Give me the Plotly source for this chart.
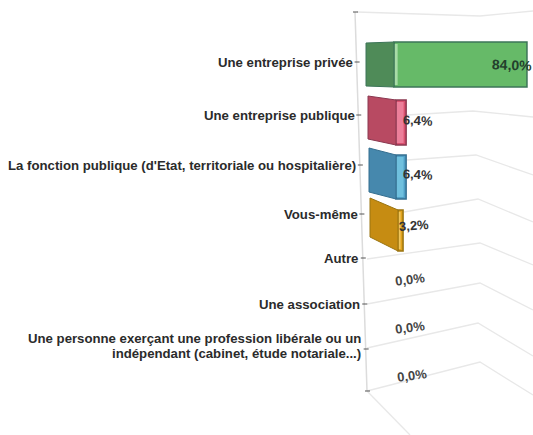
import plotly.graph_objects as go

W, H = 533, 435

# data
categories = [
    'Une entreprise privée',
    'Une entreprise publique',
    "La fonction publique (d'Etat, territoriale ou hospitalière)",
    'Vous-même',
    'Autre',
    'Une association',
    'Une personne exerçant une profession libérale ou un<br>indépendant (cabinet, étude notariale...)',
]
values = [84.0, 6.4, 6.4, 3.2, 0.0, 0.0, 0.0]

# layout of the fake 3d box, in page pixels
PX_PER_PCT = 1.583
ZERO_PX = 394
back_left = [366, 368, 369, 370]
front_left = [394, 396, 396, 398]
back_top = [43, 96, 148, 198]
back_bottom = [86, 139, 192, 237]
front_top = [42, 100, 155, 210]
front_bottom = [87, 145, 199, 251]
strip_px = [3, 7, 7, 2]
side_colors = ['#4f8b58', '#b84a62', '#4688ad', '#c68c12']
face_colors = ['#66ba68', '#d9506f', '#4f9fc6', '#e0a21c']
strip_colors = ['#a8dca6', '#ec7f9a', '#6fc0de', '#f0c55a']
edge_colors = ['#3c7558', '#8a3850', '#356f90', '#9a7410']

tick_px = [12, 62, 115, 165, 214, 258, 304, 349, 391]
label_right = [355, 357, 358, 360, 360, 362, 363]
label_y = [62, 115, 165, 214, 258, 304, 346]
value_x = [512, 418, 418, 414, 410, 410, 412]
value_y = [65, 120, 174, 226, 279, 327, 375]
value_angle = [2, 3, 3, -4, -7, -7, -7]
value_size = [14, 13, 13, 13, 13, 13, 13]
value_color = ['#23402c', '#333333', '#333333', '#333333', '#444444', '#444444', '#444444']

grid_paths = [
    [(357, 12), (480, 16), (533, 11)],
    [(407, 115), (473, 111), (533, 117)],
    [(407, 160), (476, 155), (533, 175)],
    [(404, 212), (478, 199), (533, 222)],
    [(367, 259), (480, 243), (533, 265)],
    [(367, 304), (480, 283), (533, 310)],
    [(367, 348), (478, 323), (533, 356)],
    [(367, 391), (480, 362), (533, 395)],
    [(367, 391), (410, 435)],
]


def to_pct(px):
    return (px - ZERO_PX) / PX_PER_PCT


def page_x(px):
    return px / W


def page_y(py):
    return 1 - py / H


fig = go.Figure()

for i, v in enumerate(values):
    if v == 0:
        continue
    # left side of the block
    fig.add_trace(go.Scatter(
        x=[to_pct(back_left[i]), to_pct(front_left[i]), to_pct(front_left[i]), to_pct(back_left[i]), to_pct(back_left[i])],
        y=[back_top[i], front_top[i], front_bottom[i], back_bottom[i], back_top[i]],
        mode='lines', fill='toself', fillcolor=side_colors[i],
        line=dict(color=edge_colors[i], width=1), showlegend=False, hoverinfo='skip'))
    # front of the block
    base = to_pct(front_left[i])
    centre = (front_top[i] + front_bottom[i]) / 2
    height = front_bottom[i] - front_top[i]
    fig.add_trace(go.Bar(
        x=[v], y=[centre], base=[base], width=[height], orientation='h',
        marker=dict(color=face_colors[i], line=dict(color=edge_colors[i], width=1.5)),
        showlegend=False, hoverinfo='skip'))
    fig.add_trace(go.Bar(
        x=[strip_px[i] / PX_PER_PCT], y=[centre], base=[base + 0.4], width=[height - 4], orientation='h',
        marker=dict(color=strip_colors[i], line=dict(width=0)),
        showlegend=False, hoverinfo='skip'))

shapes = []
for path in grid_paths:
    d = 'M ' + ' L '.join(f'{page_x(x)} {page_y(y)}' for x, y in path)
    shapes.append(dict(type='path', path=d, xref='paper', yref='paper',
                       line=dict(color='#e8e8e8', width=1.3), layer='below'))

# slanted value axis with its ticks
shapes.append(dict(type='line', xref='paper', yref='paper', x0=page_x(355), y0=page_y(12), x1=page_x(367), y1=page_y(391),
                   line=dict(color='#dcdcdc', width=1.5), layer='below'))
for y in tick_px:
    x = 355 + 12 * (y - 12) / 379
    shapes.append(dict(type='line', xref='paper', yref='paper', x0=page_x(x - 2), y0=page_y(y), x1=page_x(x + 3), y1=page_y(y),
                       line=dict(color='#555555', width=1)))

annotations = []
for i, c in enumerate(categories):
    lines = c.split('<br>')
    for j, line in enumerate(lines):
        # plotly's own line height is too loose for the wrapped label
        y = label_y[i] + (j - (len(lines) - 1) / 2) * 15
        annotations.append(dict(text=line, xref='paper', yref='paper', x=page_x(label_right[i]), y=page_y(y),
                                xanchor='right', yanchor='middle', align='right', showarrow=False,
                                font=dict(family='Liberation Sans', size=13.2, color='#2b2b2b', weight='bold')))
for i, v in enumerate(values):
    annotations.append(dict(text=f'{v:.1f}%'.replace('.', ','), xref='paper', yref='paper',
                            x=page_x(value_x[i]), y=page_y(value_y[i]), xanchor='center', yanchor='middle',
                            textangle=value_angle[i], showarrow=False,
                            font=dict(family='Liberation Sans', size=value_size[i], color=value_color[i], weight='bold')))

fig.update_layout(
    width=W, height=H, margin=dict(l=0, r=0, t=0, b=0), paper_bgcolor='white', plot_bgcolor='rgba(0,0,0,0)',
    barmode='overlay', showlegend=False, shapes=shapes, annotations=annotations,
    xaxis=dict(range=[to_pct(0), to_pct(W)], visible=False, fixedrange=True),
    yaxis=dict(range=[H, 0], visible=False, fixedrange=True),
)

# the page's default body margin would push the chart 8px off
fig.write_html('out.html', config=dict(displayModeBar=False), post_script="document.body.style.margin = '0';")
